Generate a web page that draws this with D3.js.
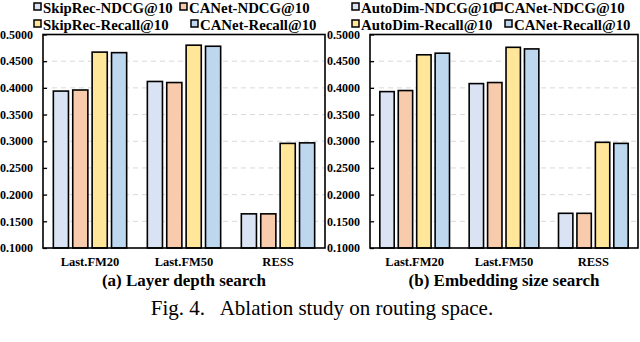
<html>
<head>
    <script src="https://d3js.org/d3.v7.min.js"></script>
    <style>
        body { margin: 0; background: #fff; }
        text { font-family: "Liberation Serif", "Times New Roman", serif; }
        .bar { stroke: #000; stroke-width: 1.6px; }
        .grid { stroke: #d9d9d9; stroke-width: 1px; stroke-dasharray: 5,4; }
        .frame { fill: none; stroke: #000; stroke-width: 1.6px; }
        .tick-label { font-size: 12px; font-weight: bold; }
        .cat-label { font-size: 12.5px; font-weight: bold; }
        .legend-label { font-size: 14.8px; font-weight: bold; }
        .sub-title { font-size: 17px; font-weight: bold; }
    </style>
</head>
<body>
    <script>
        // categories and values
        var groups = ["Last.FM20", "Last.FM50", "RESS"];
        var yTicks = [0.10, 0.15, 0.20, 0.25, 0.30, 0.35, 0.40, 0.45, 0.50];
        var colors = ["#dae3f3", "#f8cbad", "#ffe699", "#bdd7ee"];

        var seriesA = ["SkipRec-NDCG@10", "CANet-NDCG@10", "SkipRec-Recall@10", "CANet-Recall@10"];
        var valuesA = [
            [0.394, 0.412, 0.164],
            [0.396, 0.410, 0.164],
            [0.467, 0.480, 0.296],
            [0.466, 0.478, 0.297]
        ];
        var titleA = "(a) Layer depth search";

        var seriesB = ["AutoDim-NDCG@10", "CANet-NDCG@10", "AutoDim-Recall@10", "CANet-Recall@10"];
        var valuesB = [
            [0.393, 0.408, 0.165],
            [0.395, 0.410, 0.165],
            [0.462, 0.476, 0.298],
            [0.465, 0.473, 0.296]
        ];
        var titleB = "(b) Embedding size search";

        var caption = "Fig. 4.   Ablation study on routing space.";

        var width = 640, height = 342;
        var svg = d3.select("body").append("svg")
            .attr("width", width)
            .attr("height", height);

        function drawPanel(opt) {
            var g = svg.append("g");
            var y = d3.scaleLinear().domain([0.1, 0.5]).range([opt.bottom, opt.top]);
            var x0 = d3.scaleBand().domain(groups).range([opt.left, opt.right])
                .paddingInner(0.22).paddingOuter(0.11);
            var x1 = d3.scaleBand().domain(d3.range(opt.series.length))
                .range([0, x0.bandwidth()]).paddingInner(0.22);

            // dashed grid
            g.selectAll(".grid")
                .data(yTicks.filter(function (t) { return t > 0.1 && t < 0.5; }))
                .enter().append("line")
                .attr("class", "grid")
                .attr("x1", opt.left).attr("x2", opt.right)
                .attr("y1", function (d) { return y(d); })
                .attr("y2", function (d) { return y(d); });

            // bars
            var flat = [];
            opt.values.forEach(function (vals, si) {
                vals.forEach(function (v, gi) {
                    flat.push({ s: si, g: groups[gi], v: v });
                });
            });
            g.selectAll(".bar")
                .data(flat)
                .enter().append("rect")
                .attr("class", "bar")
                .attr("x", function (d) { return x0(d.g) + x1(d.s); })
                .attr("width", x1.bandwidth())
                .attr("y", function (d) { return y(d.v); })
                .attr("height", function (d) { return y(0.1) - y(d.v); })
                .attr("fill", function (d) { return colors[d.s]; });

            // y axis (ticks inward)
            var yAxis = d3.axisRight(y).tickValues(yTicks).tickSize(4).tickFormat("");
            g.append("g")
                .attr("transform", "translate(" + opt.left + ",0)")
                .call(yAxis)
                .call(function (s) {
                    s.select(".domain").remove();
                    s.selectAll("line").attr("stroke", "#000").attr("stroke-width", 1.3);
                });
            g.selectAll(".tick-label")
                .data(yTicks)
                .enter().append("text")
                .attr("class", "tick-label")
                .attr("x", opt.left - 10)
                .attr("y", function (d) { return y(d); })
                .attr("dy", "0.35em")
                .attr("text-anchor", "end")
                .text(d3.format(".4f"));

            g.append("rect")
                .attr("class", "frame")
                .attr("x", opt.left).attr("y", opt.top)
                .attr("width", opt.right - opt.left)
                .attr("height", opt.bottom - opt.top);

            // category labels
            g.selectAll(".cat-label")
                .data(groups)
                .enter().append("text")
                .attr("class", "cat-label")
                .attr("x", function (d) { return x0(d) + x0.bandwidth() / 2; })
                .attr("y", 265.5)
                .attr("text-anchor", "middle")
                .text(function (d) { return d; });

            g.append("text")
                .attr("class", "sub-title")
                .attr("x", (opt.left + opt.right) / 2)
                .attr("y", 285.5)
                .attr("text-anchor", "middle")
                .text(opt.title);

            // legend, two rows of two
            opt.series.forEach(function (name, i) {
                var row = Math.floor(i / 2), col = i % 2;
                var lx = opt.legendX[row][col];
                var ly = row === 0 ? 3 : 20;
                g.append("rect")
                    .attr("x", lx).attr("y", ly)
                    .attr("width", 7).attr("height", 7)
                    .attr("fill", colors[i])
                    .attr("stroke", "#000").attr("stroke-width", 1.5);
                g.append("text")
                    .attr("class", "legend-label")
                    .attr("x", lx + 9)
                    .attr("y", ly + 10)
                    .text(name);
            });
        }

        drawPanel({ left: 43, right: 325, top: 34.5, bottom: 248, series: seriesA, values: valuesA,
            title: titleA, legendX: [[34, 180], [34, 191]] });
        drawPanel({ left: 370, right: 638, top: 34.5, bottom: 248, series: seriesB, values: valuesB,
            title: titleB, legendX: [[352, 495], [352, 505]] });

        svg.append("text")
            .attr("x", 322)
            .attr("y", 315)
            .attr("text-anchor", "middle")
            .style("font-size", "21px")
            .style("white-space", "pre")
            .text(caption);
    </script>
</body>
</html>
